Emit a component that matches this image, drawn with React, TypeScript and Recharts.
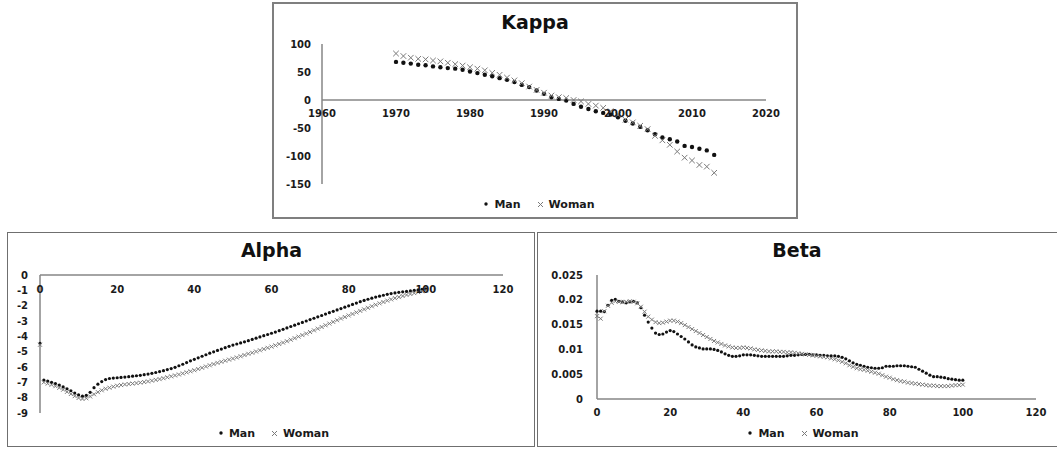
import React from "react";
import { ScatterChart, Scatter, XAxis, YAxis, ReferenceLine, Legend } from "recharts";

// Kappa (period index), 1970-2013
const kappaYears = [
  1970, 1971, 1972, 1973, 1974, 1975, 1976, 1977, 1978, 1979,
  1980, 1981, 1982, 1983, 1984, 1985, 1986, 1987, 1988, 1989,
  1990, 1991, 1992, 1993, 1994, 1995, 1996, 1997, 1998, 1999,
  2000, 2001, 2002, 2003, 2004, 2005, 2006, 2007, 2008, 2009,
  2010, 2011, 2012, 2013,
];
const kappaMan = [
  68, 66.5, 65, 63, 62, 60, 58.5, 57, 56, 54,
  51, 48, 45, 42.5, 39, 36, 32, 27, 23, 17,
  11, 5, 2, -1, -7, -12, -16, -20, -23, -26,
  -31, -37, -42, -48, -54, -61, -67, -70, -74, -82,
  -84, -87, -90, -98,
];
const kappaWoman = [
  83, 78.5, 75.5, 73.5, 72.5, 70.5, 69, 66.5, 64, 61.5,
  58.5, 56, 53, 48.5, 45, 40, 35, 30, 24, 18,
  13, 8, 5, 3.5, 0, -2.5, -7, -10, -14, -20,
  -26, -35, -40, -46, -52, -64, -72, -80, -92, -103,
  -108, -116, -119, -130,
];

// age 0..100
const ages = [
  0, 1, 2, 3, 4, 5, 6, 7, 8, 9, 10, 11, 12, 13, 14, 15, 16, 17, 18, 19, 20,
  21, 22, 23, 24, 25, 26, 27, 28, 29, 30, 31, 32, 33, 34, 35, 36, 37, 38, 39, 40,
  41, 42, 43, 44, 45, 46, 47, 48, 49, 50, 51, 52, 53, 54, 55, 56, 57, 58, 59, 60,
  61, 62, 63, 64, 65, 66, 67, 68, 69, 70, 71, 72, 73, 74, 75, 76, 77, 78, 79, 80,
  81, 82, 83, 84, 85, 86, 87, 88, 89, 90, 91, 92, 93, 94, 95, 96, 97, 98, 99, 100,
];

const alphaMan = [
  -4.45,
  -6.85, -6.92, -7.0, -7.08, -7.18, -7.3, -7.42, -7.55, -7.7, -7.82,
  -7.9, -7.85, -7.65, -7.35, -7.12, -6.95, -6.82, -6.75, -6.72, -6.7,
  -6.68, -6.66, -6.63, -6.6, -6.57, -6.54, -6.5, -6.46, -6.41, -6.36,
  -6.3, -6.24, -6.17, -6.1, -6.02, -5.92, -5.82, -5.71, -5.6, -5.5,
  -5.4, -5.3, -5.2, -5.1, -5.01, -4.92, -4.83, -4.74, -4.65, -4.57,
  -4.5, -4.43, -4.36, -4.28, -4.2, -4.12, -4.04, -3.96, -3.88, -3.8,
  -3.72, -3.63, -3.54, -3.45, -3.36, -3.27, -3.18, -3.09, -3.0, -2.91,
  -2.82, -2.73, -2.64, -2.55, -2.46, -2.37, -2.28, -2.19, -2.1, -2.01,
  -1.92, -1.83, -1.74, -1.66, -1.58, -1.51, -1.44, -1.38, -1.32, -1.26,
  -1.21, -1.17, -1.13, -1.1, -1.07, -1.04, -1.0, -0.97, -0.93, -0.9,
];
const alphaWoman = [
  -4.55,
  -7.0, -7.08, -7.16, -7.25, -7.36, -7.48, -7.62, -7.76, -7.9, -8.02,
  -8.08, -8.04, -7.92, -7.78, -7.64, -7.52, -7.42, -7.35, -7.28, -7.22,
  -7.18, -7.14, -7.11, -7.08, -7.05, -7.02, -6.98, -6.94, -6.89, -6.84,
  -6.79, -6.73, -6.67, -6.61, -6.55, -6.49, -6.42, -6.35, -6.28, -6.21,
  -6.13, -6.05, -5.97, -5.89, -5.81, -5.73, -5.66, -5.59, -5.52, -5.45,
  -5.38, -5.3, -5.22, -5.14, -5.07, -4.99, -4.91, -4.83, -4.75, -4.67,
  -4.59, -4.5, -4.41, -4.32, -4.22, -4.12, -4.02, -3.92, -3.82, -3.72,
  -3.61, -3.5, -3.39, -3.28, -3.17, -3.06, -2.95, -2.84, -2.74, -2.64,
  -2.54, -2.44, -2.34, -2.24, -2.14, -2.04, -1.94, -1.85, -1.76, -1.67,
  -1.59, -1.51, -1.44, -1.37, -1.3, -1.24, -1.18, -1.12, -1.06, -1.0,
];

const betaMan = [
  0.0177, 0.0177, 0.0176, 0.0189, 0.0199, 0.0201, 0.0197, 0.0196, 0.0194, 0.0196, 0.0197,
  0.0194, 0.0184, 0.0169, 0.0155, 0.0143, 0.0133, 0.013, 0.0131, 0.0135, 0.0138,
  0.0136, 0.0131, 0.0126, 0.0121, 0.0115, 0.0109, 0.0105, 0.0103, 0.0101, 0.0101,
  0.0101, 0.01, 0.0098, 0.0095, 0.0091, 0.0088, 0.0086, 0.0086, 0.0087, 0.0089,
  0.0089, 0.0089, 0.0088, 0.0087, 0.0086, 0.0086, 0.0086, 0.0086, 0.0086, 0.0086,
  0.0086, 0.0087, 0.0088, 0.0088, 0.0089, 0.009, 0.009, 0.009, 0.0089, 0.0089,
  0.0088, 0.0088, 0.0087, 0.0087, 0.0087, 0.0086, 0.0084, 0.0081, 0.0077, 0.0073,
  0.007, 0.0068, 0.0066, 0.0064, 0.0063, 0.0062, 0.0062, 0.0063, 0.0066, 0.0066,
  0.0066, 0.0067, 0.0067, 0.0067, 0.0066, 0.0065, 0.0064, 0.006, 0.0056, 0.0052,
  0.0048, 0.0045, 0.0045, 0.0044, 0.0043, 0.0041, 0.004, 0.0039, 0.0038, 0.0038,
];
const betaWoman = [
  0.0167, 0.0162, 0.0177, 0.0188, 0.0194, 0.0197, 0.0196, 0.0195, 0.0196, 0.0197, 0.0196,
  0.0193, 0.0186, 0.0176, 0.0166, 0.016, 0.0155, 0.0153, 0.0154, 0.0156, 0.0158,
  0.0158, 0.0156, 0.0153, 0.0149, 0.0145, 0.0141, 0.0137, 0.0133, 0.0129, 0.0125,
  0.0121, 0.0117, 0.0114, 0.0111, 0.0108, 0.0106, 0.0104, 0.0103, 0.0103, 0.0104,
  0.0103, 0.0102, 0.01, 0.0099, 0.0098, 0.0097, 0.0096, 0.0096, 0.0096, 0.0095,
  0.0095, 0.0094, 0.0094, 0.0093, 0.0092, 0.0091, 0.009, 0.0089, 0.0088, 0.0087,
  0.0086, 0.0085, 0.0084, 0.0082, 0.008, 0.0078, 0.0075, 0.0072, 0.0068, 0.0065,
  0.0062, 0.006, 0.0059, 0.0057, 0.0055, 0.0053, 0.0051, 0.0048, 0.0045, 0.0043,
  0.004, 0.0038, 0.0036, 0.0035, 0.0033, 0.0032, 0.0031, 0.003, 0.0029, 0.0028,
  0.0027, 0.0027, 0.0026, 0.0026, 0.0026, 0.0026, 0.0027, 0.0028, 0.0028, 0.0029,
];

const kappaXTicks = [1960, 1970, 1980, 1990, 2000, 2010, 2020];
const kappaYTicks = [-150, -100, -50, 0, 50, 100];
const ageTicks = [0, 20, 40, 60, 80, 100, 120];
const alphaYTicks = [-9, -8, -7, -6, -5, -4, -3, -2, -1, 0];
const betaYTicks = [0, 0.005, 0.01, 0.015, 0.02, 0.025];

const FONT = "DejaVu Sans, Verdana, sans-serif";
const AXIS = "#868686";
const tickStyle = { fontFamily: FONT, fontSize: 10, fontWeight: 700, fill: "#1a1a1a" };

const pairs = (xs: number[], ys: number[]) => ys.map((y, i) => ({ x: xs[i], y }));

function ShiftedTick(props: any) {
  const { x, y, payload, shift } = props;
  return (
    <text x={x} y={y + shift} dy="0.35em" textAnchor="middle" {...tickStyle}>
      {payload.value}
    </text>
  );
}

const dot = (r: number) => (p: any) => <circle cx={p.cx} cy={p.cy} r={r} fill="#111" />;
const cross = (s: number) => (p: any) => (
  <path
    d={`M${p.cx - s},${p.cy - s}L${p.cx + s},${p.cy + s}M${p.cx + s},${p.cy - s}L${p.cx - s},${p.cy + s}`}
    stroke="#7a7a7a"
    strokeWidth={1}
    fill="none"
  />
);

function SexLegend() {
  return (
    <div
      style={{
        display: "flex",
        justifyContent: "center",
        alignItems: "center",
        height: 16,
        fontFamily: FONT,
        fontSize: 11,
        fontWeight: 700,
        color: "#1a1a1a",
      }}
    >
      <svg width={6} height={6}>
        <circle cx={3} cy={3} r={1.7} fill="#111" />
      </svg>
      <span style={{ marginLeft: 5 }}>Man</span>
      <svg width={7} height={7} style={{ marginLeft: 16 }}>
        <path d="M1,1L6,6M6,1L1,6" stroke="#7a7a7a" strokeWidth={1} />
      </svg>
      <span style={{ marginLeft: 5 }}>Woman</span>
    </div>
  );
}

const titleStyle = (left: number, top: number, width: number): React.CSSProperties => ({
  position: "absolute",
  left,
  top,
  width,
  height: 22,
  lineHeight: "22px",
  textAlign: "center",
  fontFamily: FONT,
  fontSize: 19,
  fontWeight: 700,
  color: "#111",
});

// kappa plot is 140px tall; the x labels sit just under the zero line
const KAPPA_PLOT_H = 140;
const kappaZeroUp = (KAPPA_PLOT_H * (0 - -150)) / (100 - -150);

export default function App() {
  return (
    <div style={{ position: "absolute", left: 0, top: 0, width: 1057, height: 449, overflow: "hidden", background: "#fff" }}>
      {/* frames */}
      <div style={{ position: "absolute", left: 272, top: 2, width: 526, height: 217, border: "2px solid #7f7f7f", boxSizing: "border-box" }} />
      <div style={{ position: "absolute", left: 7, top: 232, width: 528, height: 215, border: "1px solid #6f6f6f", boxSizing: "border-box" }} />
      <div style={{ position: "absolute", left: 537, top: 232, width: 530, height: 215, border: "1px solid #6f6f6f", boxSizing: "border-box" }} />

      <div style={titleStyle(272, 11, 526)}>Kappa</div>
      <div style={titleStyle(8, 239, 527)}>Alpha</div>
      <div style={titleStyle(537, 239, 520)}>Beta</div>

      {/* Kappa */}
      <div style={{ position: "absolute", left: 272, top: 2 }}>
        <ScatterChart width={526} height={217} margin={{ top: 42, right: 32, left: 0, bottom: 9 }}>
          <XAxis
            type="number"
            dataKey="x"
            domain={[1960, 2020]}
            ticks={kappaXTicks}
            height={10}
            axisLine={false}
            tickLine={false}
            tickSize={0}
            tickMargin={0}
            interval={0}
            tick={<ShiftedTick shift={-kappaZeroUp + 13} />}
          />
          <YAxis
            type="number"
            dataKey="y"
            domain={[-150, 100]}
            ticks={kappaYTicks}
            width={50}
            axisLine={{ stroke: AXIS, strokeWidth: 1.5 }}
            tickLine={false}
            tickSize={0}
            tickMargin={11}
            interval={0}
            tick={tickStyle}
          />
          <ReferenceLine y={0} stroke={AXIS} strokeWidth={1.5} />
          <Legend content={<SexLegend />} verticalAlign="bottom" wrapperStyle={{ left: 4, width: 526, height: 16, bottom: 7 }} />
          <Scatter name="Man" data={pairs(kappaYears, kappaMan)} shape={dot(2.2)} fill="#111" isAnimationActive={false} />
          <Scatter name="Woman" data={pairs(kappaYears, kappaWoman)} shape={cross(2.8)} fill="#7a7a7a" isAnimationActive={false} />
        </ScatterChart>
      </div>

      {/* Alpha */}
      <div style={{ position: "absolute", left: 8, top: 232 }}>
        <ScatterChart width={527} height={214} margin={{ top: 33, right: 32, left: 0, bottom: 17 }}>
          <XAxis
            type="number"
            dataKey="x"
            orientation="top"
            domain={[0, 120]}
            ticks={ageTicks}
            height={10}
            axisLine={{ stroke: AXIS, strokeWidth: 1.5 }}
            tickLine={false}
            tickSize={0}
            tickMargin={0}
            interval={0}
            tick={<ShiftedTick shift={14} />}
          />
          <YAxis
            type="number"
            dataKey="y"
            domain={[-9, 0]}
            ticks={alphaYTicks}
            width={32}
            axisLine={{ stroke: AXIS, strokeWidth: 1.5 }}
            tickLine={false}
            tickSize={0}
            tickMargin={12}
            interval={0}
            tick={tickStyle}
          />
          <Legend content={<SexLegend />} verticalAlign="bottom" wrapperStyle={{ left: 2, width: 527, height: 16, bottom: 5 }} />
          <Scatter name="Man" data={pairs(ages, alphaMan)} shape={dot(1.6)} fill="#111" isAnimationActive={false} />
          <Scatter name="Woman" data={pairs(ages, alphaWoman)} shape={cross(2)} fill="#7a7a7a" isAnimationActive={false} />
        </ScatterChart>
      </div>

      {/* Beta */}
      <div style={{ position: "absolute", left: 537, top: 232 }}>
        <ScatterChart width={520} height={214} margin={{ top: 43, right: 21, left: 0, bottom: 7 }}>
          <XAxis
            type="number"
            dataKey="x"
            domain={[0, 120]}
            ticks={ageTicks}
            height={24}
            axisLine={{ stroke: AXIS, strokeWidth: 1.5 }}
            tickLine={false}
            tickSize={0}
            tickMargin={0}
            interval={0}
            tick={<ShiftedTick shift={13} />}
          />
          <YAxis
            type="number"
            dataKey="y"
            domain={[0, 0.025]}
            ticks={betaYTicks}
            width={60}
            axisLine={{ stroke: AXIS, strokeWidth: 1.5 }}
            tickLine={false}
            tickSize={0}
            tickMargin={14}
            interval={0}
            tick={tickStyle}
          />
          <Legend content={<SexLegend />} verticalAlign="bottom" wrapperStyle={{ left: 6, width: 520, height: 16, bottom: 5 }} />
          <Scatter name="Man" data={pairs(ages, betaMan)} shape={dot(1.6)} fill="#111" isAnimationActive={false} />
          <Scatter name="Woman" data={pairs(ages, betaWoman)} shape={cross(2)} fill="#7a7a7a" isAnimationActive={false} />
        </ScatterChart>
      </div>
    </div>
  );
}
